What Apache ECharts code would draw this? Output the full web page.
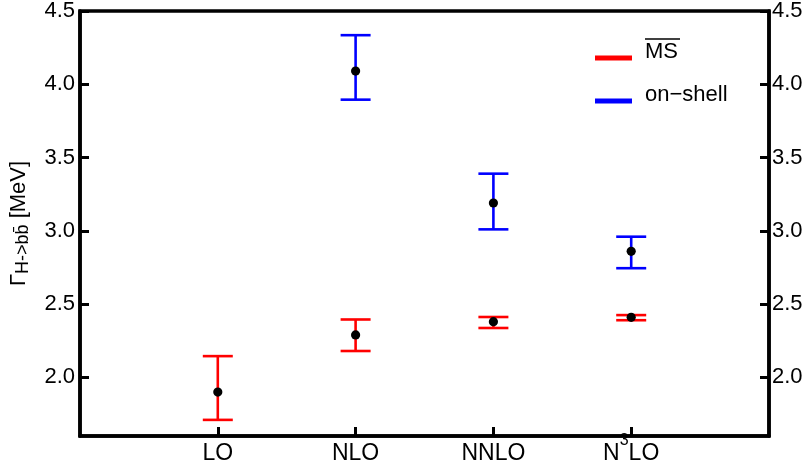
<!DOCTYPE html>
<html>
<head>
<meta charset="utf-8">
<script src="https://cdn.jsdelivr.net/npm/echarts@6/dist/echarts.min.js"></script>
<style>
html, body { margin: 0; padding: 0; background: #fff; }
#main { width: 808px; height: 468px; }
</style>
</head>
<body>
<div id="main"></div>
<script>
// perturbative orders on the x axis (placed at 1..4)
var categories = ['LO', 'NLO', 'NNLO', 'N3LO'];
var positions = [1, 2, 3, 4];
var yTicks = [2.0, 2.5, 3.0, 3.5, 4.0, 4.5];

// MS-bar scheme
var msCentral = [1.90, 2.29, 2.38, 2.41];
var msLow = [1.71, 2.18, 2.337, 2.39];
var msHigh = [2.145, 2.395, 2.412, 2.425];

// on-shell scheme (no LO point)
var osCentral = [null, 4.09, 3.19, 2.86];
var osLow = [null, 3.895, 3.01, 2.745];
var osHigh = [null, 4.335, 3.39, 2.96];

var font = 'Liberation Sans';

function buildRows(central, low, high) {
	var rows = [];
	for (var i = 0; i < positions.length; i++) {
		if (central[i] == null) continue;
		rows.push([positions[i], central[i], low[i], high[i]]);
	}
	return rows;
}

function errorBar(params, api) {
	var x = api.value(0);
	var pc = api.coord([x, api.value(1)]);
	var pl = api.coord([x, api.value(2)]);
	var ph = api.coord([x, api.value(3)]);
	var hw = 15;
	var st = { stroke: api.visual('color'), lineWidth: 2.6 };
	return {
		type: 'group',
		children: [
			{ type: 'line', shape: { x1: pl[0], y1: pl[1], x2: ph[0], y2: ph[1] }, style: st },
			{ type: 'line', shape: { x1: pl[0] - hw, y1: pl[1], x2: pl[0] + hw, y2: pl[1] }, style: st },
			{ type: 'line', shape: { x1: ph[0] - hw, y1: ph[1], x2: ph[0] + hw, y2: ph[1] }, style: st },
			{ type: 'circle', shape: { cx: pc[0], cy: pc[1], r: 4.6 }, style: { fill: '#000' } }
		]
	};
}

function xLabel(v) {
	var name = categories[positions.indexOf(v)];
	if (!name) return '';
	if (name === 'N3LO') return '{a|N}{s|3}{a|LO}';
	return '{a|' + name + '}';
}

var yAxisBase = {
	type: 'value',
	min: 1.6,
	max: 4.5,
	splitLine: { show: false },
	axisLine: { show: true, lineStyle: { color: '#000', width: 3.5 } },
	axisTick: { show: true, inside: true, length: 9, customValues: yTicks, lineStyle: { color: '#000', width: 3 } },
	axisLabel: {
		customValues: yTicks,
		color: '#000',
		fontSize: 22,
		fontFamily: font,
		formatter: function(v) { return v.toFixed(1); }
	}
};

var chart = echarts.init(document.getElementById('main'));
var option = {
	animation: false,
	backgroundColor: '#fff',
	grid: {
		left: 80, right: 39, top: 11, bottom: 32,
		outerBoundsMode: 'none',
		containLabel: false,
		show: true, borderColor: '#000', borderWidth: 3.5, backgroundColor: 'transparent'
	},
	legend: {
		orient: 'vertical',
		left: 590,
		top: 36,
		itemWidth: 37,
		itemHeight: 5,
		itemGap: 21,
		selectedMode: false,
		formatter: function(name) { return '{t|' + name + '}{sp| }'; },
		textStyle: {
			padding: [0, 0, 0, 8],
			rich: {
				t: { color: '#000', fontSize: 22, fontFamily: font, lineHeight: 24, verticalAlign: 'top' },
				sp: { fontSize: 1, lineHeight: 34, verticalAlign: 'middle' }
			}
		},
		data: [
			{ name: 'MS', icon: 'rect' },
			{ name: 'on\u2212shell', icon: 'rect' }
		]
	},
	graphic: [
		{ type: 'line', shape: { x1: 645, y1: 39, x2: 680, y2: 39 }, style: { stroke: '#000', lineWidth: 1.5 } }
	],
	xAxis: {
		type: 'value',
		min: 0,
		max: 5,
		splitLine: { show: false },
		axisLine: { show: true, lineStyle: { color: '#000', width: 3.5 } },
		axisTick: { show: true, inside: true, length: 9, customValues: positions, lineStyle: { color: '#000', width: 3 } },
		axisLabel: {
			customValues: positions,
			margin: -3,
			formatter: xLabel,
			rich: {
				a: { color: '#000', fontSize: 23, fontFamily: font, lineHeight: 32, verticalAlign: 'bottom' },
				s: { color: '#000', fontSize: 16, fontFamily: font, lineHeight: 6, verticalAlign: 'top' }
			}
		}
	},
	yAxis: [
		Object.assign({}, yAxisBase, {
			position: 'left',
			name: '{g|\u0393}{sub|H->b}{sub|b\u0304}{g| [MeV]}',
			nameLocation: 'middle',
			nameGap: 48,
			nameRotate: 90,
			nameTextStyle: {
				rich: {
					g: { color: '#000', fontSize: 22, fontFamily: font, verticalAlign: 'top', lineHeight: 24 },
					sub: { color: '#000', fontSize: 18, fontFamily: font, verticalAlign: 'bottom', lineHeight: 14 }
				}
			},
			axisLabel: Object.assign({}, yAxisBase.axisLabel, { margin: 5 })
		}),
		Object.assign({}, yAxisBase, {
			position: 'right',
			axisLabel: Object.assign({}, yAxisBase.axisLabel, { margin: 3 })
		})
	],
	series: [
		{
			name: 'MS',
			type: 'custom',
			itemStyle: { color: '#ff0000' },
			renderItem: errorBar,
			encode: { x: 0, y: [2, 3] },
			data: buildRows(msCentral, msLow, msHigh)
		},
		{
			name: 'on\u2212shell',
			type: 'custom',
			itemStyle: { color: '#0000ff' },
			renderItem: errorBar,
			encode: { x: 0, y: [2, 3] },
			data: buildRows(osCentral, osLow, osHigh)
		}
	]
};
chart.setOption(option);
</script>
</body>
</html>
